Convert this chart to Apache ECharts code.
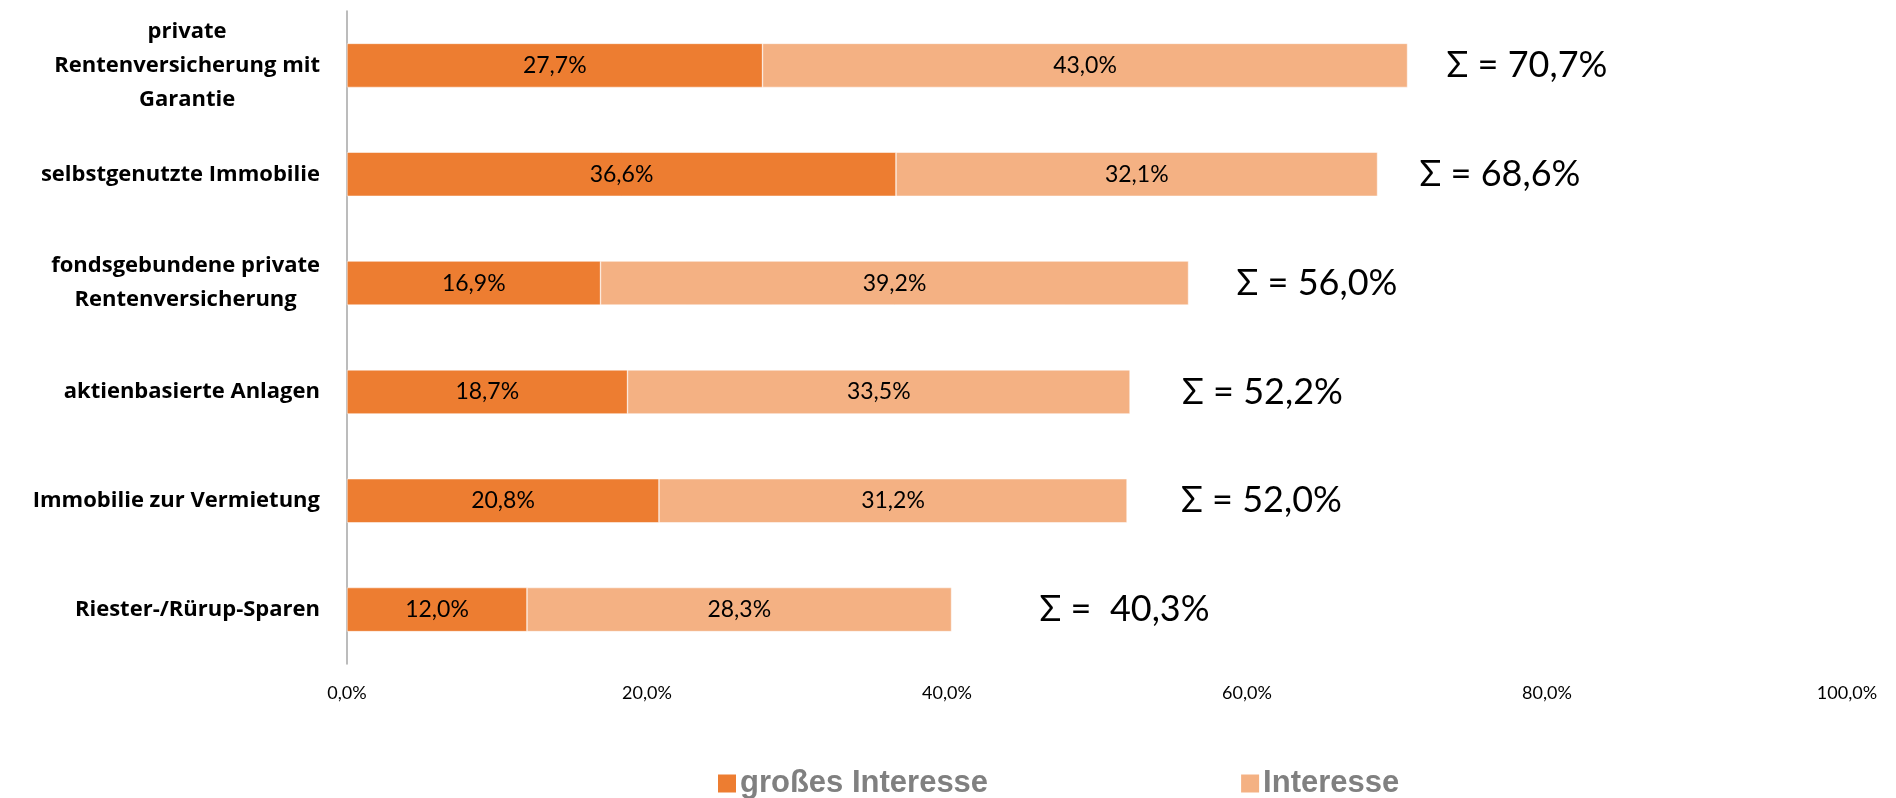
<!DOCTYPE html>
<html>
<head>
<meta charset="utf-8">
<script src="https://cdn.jsdelivr.net/npm/echarts@6/dist/echarts.min.js"></script>
<style>
  html, body { margin: 0; padding: 0; background: #fff; }
  #main { width: 1896px; height: 798px; }
</style>
</head>
<body>
<div id="main"></div>
<script>
// categories, top to bottom
var categories = [
  'private\nRentenversicherung mit\nGarantie',
  'selbstgenutzte Immobilie',
  'fondsgebundene private\nRentenversicherung',
  'aktienbasierte Anlagen',
  'Immobilie zur Vermietung',
  'Riester-/Rürup-Sparen'
];
var grossesInteresse = [27.7, 36.6, 16.9, 18.7, 20.8, 12.0];
var interesse = [43.0, 32.1, 39.2, 33.5, 31.2, 28.3];
var summen = [70.7, 68.6, 56.0, 52.2, 52.0, 40.3];
var xTicks = [0, 20, 40, 60, 80, 100];

// gap between bar end and the sum label (px)
var sumGap = [39, 42, 48, 52, 54, 88];
// the last label has a double space in the original
var sumSep = [' ', ' ', ' ', ' ', ' ', '  '];

function pct(v) {
  return v.toFixed(1).replace('.', ',') + '%';
}

var chart = echarts.init(document.getElementById('main'));

chart.setOption({
  animation: false,
  textStyle: { fontFamily: 'Lato' },
  grid: { left: 347, right: 49, top: 11, bottom: 134 },
  legend: {
    left: 711,
    top: 763,
    itemWidth: 20,
    itemHeight: 20,
    itemGap: 251,
    icon: 'rect',
    textStyle: {
      fontFamily: '"Liberation Sans Narrow", "Liberation Sans"',
      fontWeight: 'bold',
      fontSize: 31,
      color: '#808080',
      padding: [0, 0, 0, -2]
    },
    data: ['großes Interesse', 'Interesse']
  },
  xAxis: {
    type: 'value',
    min: xTicks[0],
    max: xTicks[xTicks.length - 1],
    interval: 20,
    axisLine: { show: false },
    axisTick: { show: false },
    splitLine: { show: false },
    axisLabel: {
      margin: 20,
      fontSize: 18,
      color: '#000',
      formatter: function (v) { return pct(v); }
    }
  },
  yAxis: {
    type: 'category',
    inverse: true,
    data: categories,
    axisTick: { show: false },
    axisLine: { lineStyle: { color: '#a6a6a6', width: 1.5 } },
    axisLabel: {
      margin: 27,
      align: 'right',
      formatter: function (v) {
        return v.split('\n').map(function (l) { return '{c|' + l + '}'; }).join('\n');
      },
      rich: {
        c: {
          align: 'center',
          fontFamily: '"Open Sans"',
          fontWeight: 'bold',
          fontSize: 22,
          lineHeight: 34,
          color: '#000'
        }
      }
    }
  },
  series: [
    {
      name: 'großes Interesse',
      type: 'bar',
      stack: 'a',
      barWidth: 44,
      itemStyle: { color: '#ED7D31', borderColor: '#fff', borderWidth: 0.5 },
      label: {
        show: true,
        position: 'inside',
        fontSize: 23,
        color: '#000',
        formatter: function (p) { return pct(p.value); }
      },
      data: grossesInteresse
    },
    {
      name: 'Interesse',
      type: 'bar',
      stack: 'a',
      barWidth: 44,
      itemStyle: { color: '#F4B183', borderColor: '#fff', borderWidth: 0.5 },
      label: {
        show: true,
        position: 'inside',
        fontSize: 23,
        color: '#000',
        formatter: function (p) { return pct(p.value); }
      },
      data: interesse
    },
    {
      // invisible series carrying the sum labels
      name: 'summe',
      type: 'bar',
      stack: 'a',
      barWidth: 44,
      itemStyle: { color: 'transparent' },
      silent: true,
      data: summen.map(function (s, i) {
        return {
          value: 0,
          label: {
            show: true,
            position: 'right',
            distance: sumGap[i],
            fontSize: 36,
            color: '#000',
            formatter: 'Σ =' + sumSep[i] + pct(s)
          }
        };
      })
    }
  ]
});
</script>
</body>
</html>
